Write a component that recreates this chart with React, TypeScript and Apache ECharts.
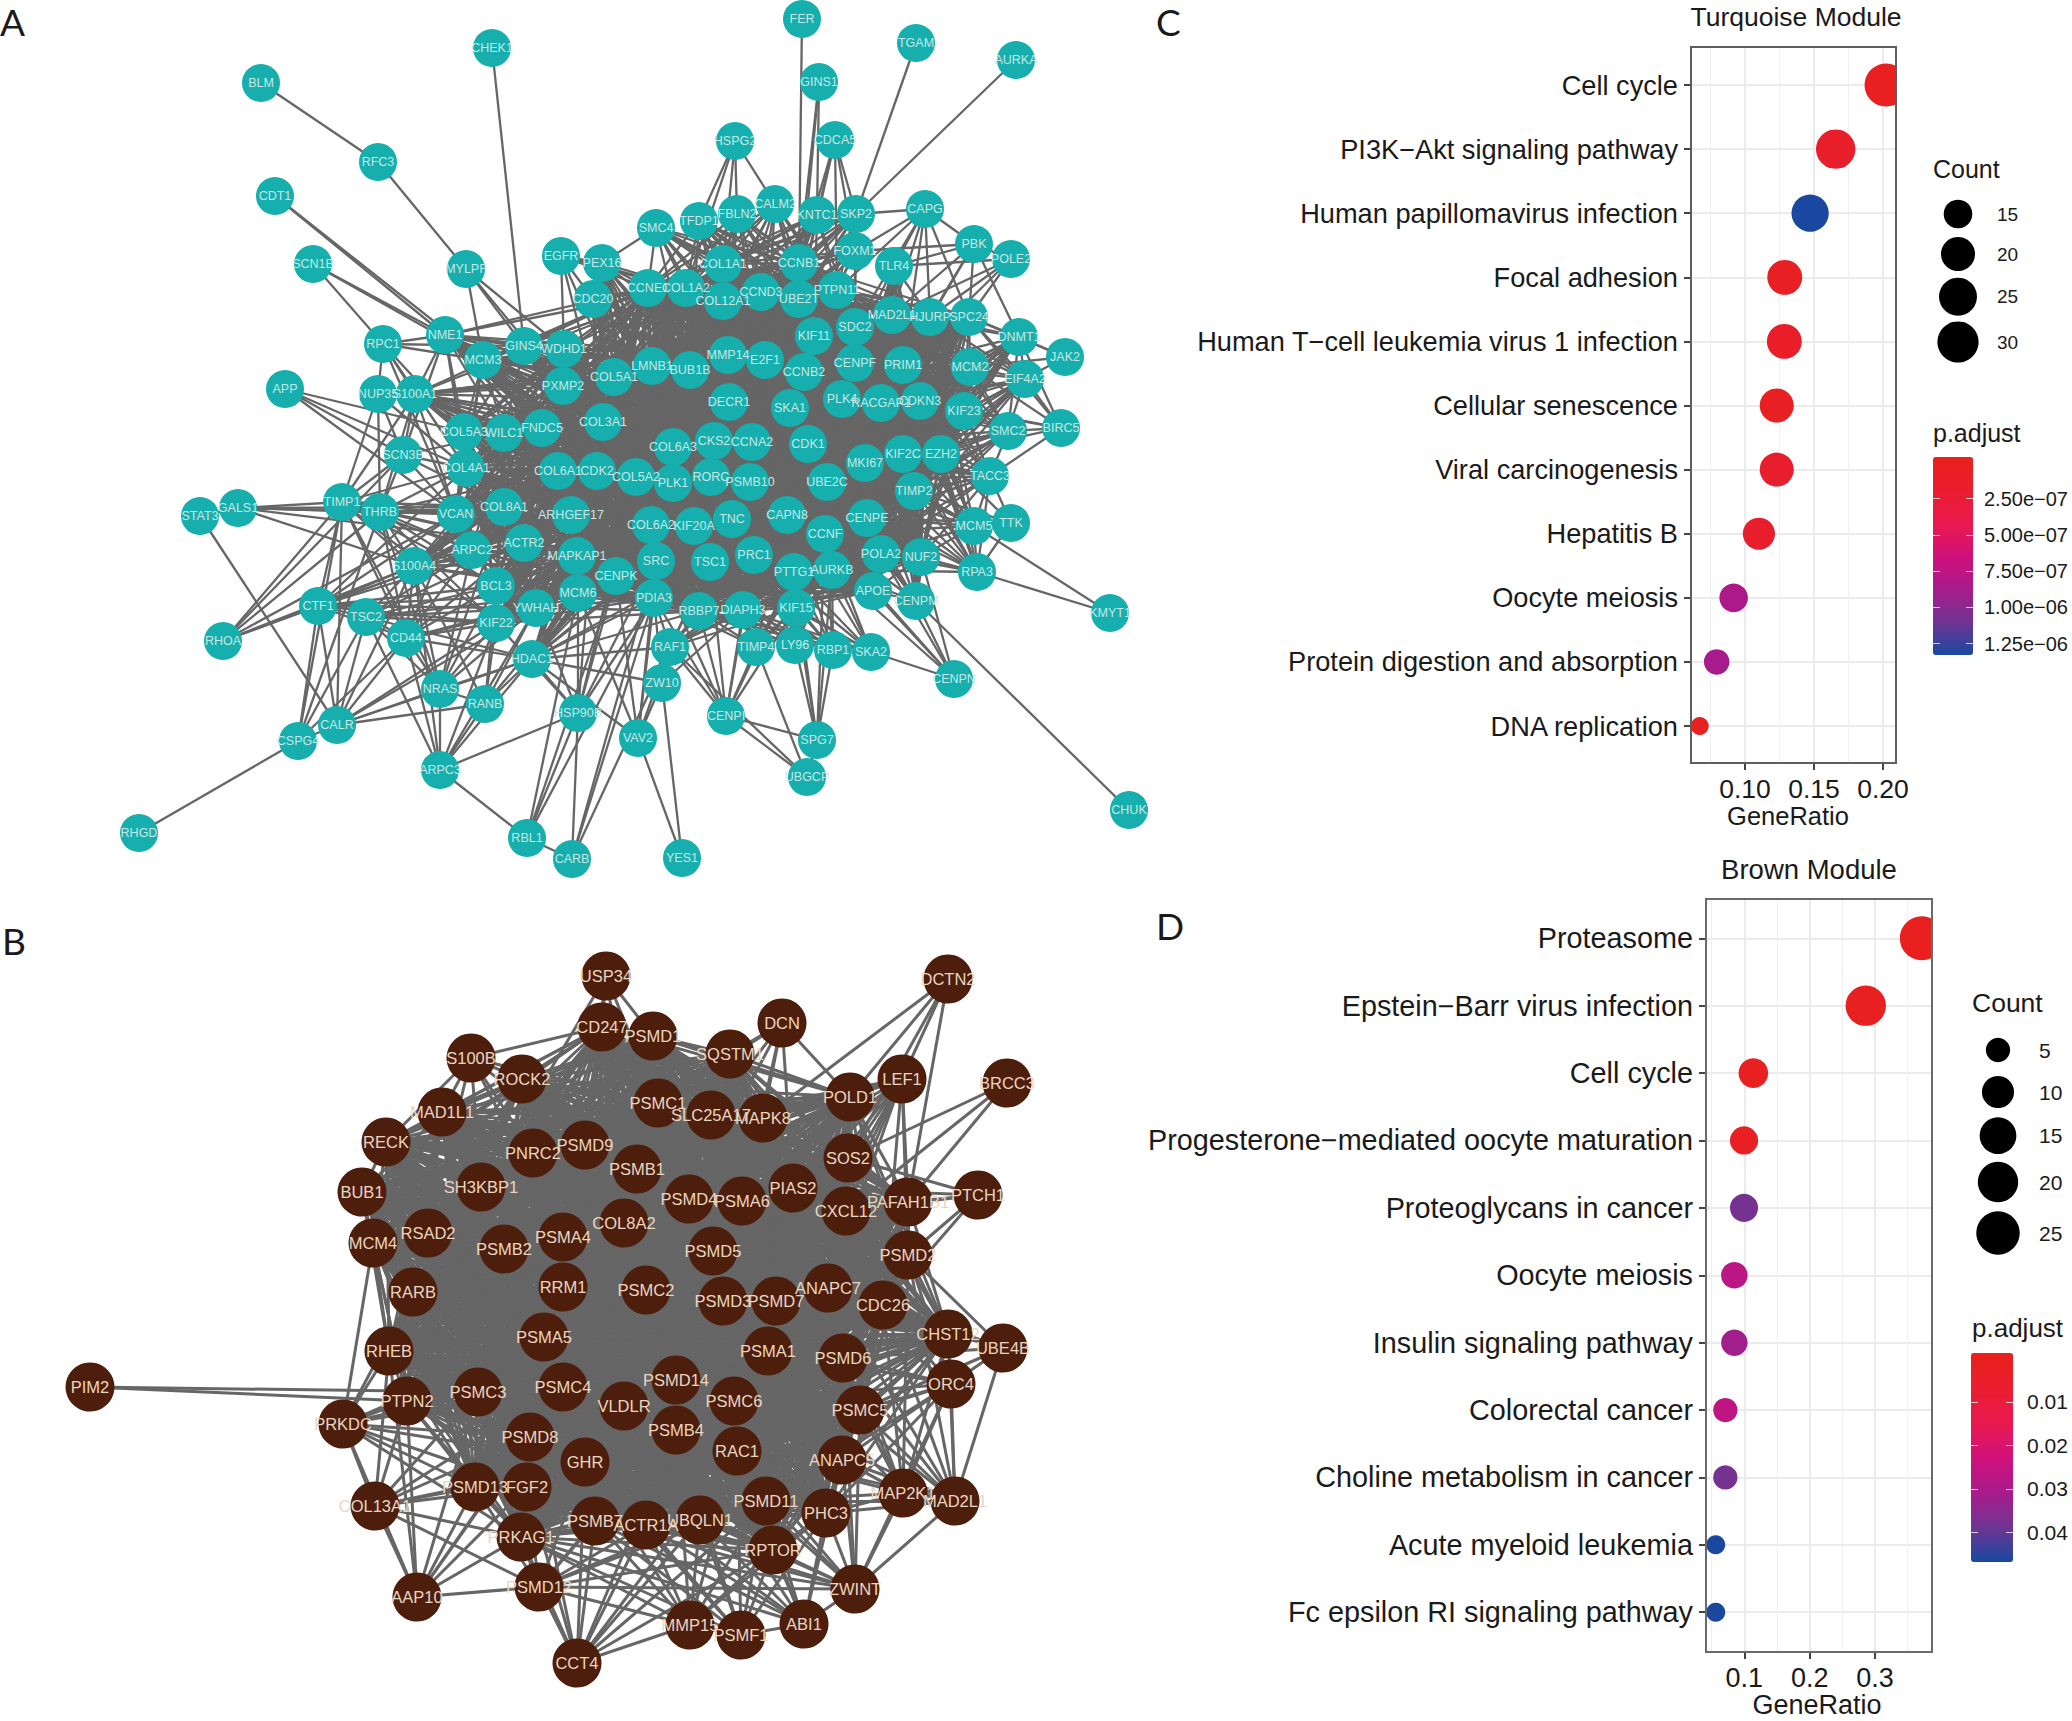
import React, { useEffect, useRef } from "react";
import * as echarts from "echarts";

const FONT = "Liberation Sans";

// ---------- Panel A network: node name, layout x, layout y ----------
const nodesA: [string, number, number][] = [
  ["BLM",261,83],["RFC3",378,162],["CHEK1",492,48],["CDT1",275,196],["SCN1B",313,264],["MYLPF",466,269],["EGFR",561,256],["PEX16",602,263],["CDC20",593,299],
  ["RPC1",383,344],["NME1",445,335],["MCM3",483,360],["GINS4",524,346],["WDHD1",564,349],["PXMP2",563,386],["APP",285,389],["NUP35",378,394],["S100A1",415,394],
  ["COL5A3",464,432],["WILC1",504,433],["FNDC5",542,428],["COL3A1",603,422],["SCN3B",403,455],["FER",802,19],["TGAM",916,43],["AURKA",1016,60],["GINS1",819,82],
  ["HSPG2",735,141],["CDCA5",835,140],["SMC4",656,228],["TFDP1",699,221],["FBLN2",737,214],["CALM2",775,204],["KNTC1",817,215],["SKP2",856,214],["CAPG",925,209],
  ["PBK",974,244],["POLE2",1011,259],["FOXM1",855,251],["TLR4",894,266],["COL1A1",723,264],["CCNB1",799,263],["CCNE1",648,288],["COL1A2",686,288],["COL12A1",723,301],
  ["CCND3",761,292],["UBE2T",799,299],["PTPN11",837,290],["MAD2L1",892,315],["HJURP",930,317],["SPC24",969,317],["DNMT1",1019,337],["JAK2",1065,357],["SDC2",855,327],
  ["KIF11",814,336],["MMP14",728,355],["E2F1",765,360],["LMNB1",652,366],["BUB1B",690,370],["COL5A1",614,377],["CCNB2",804,372],["CENPF",855,363],["PRIM1",903,365],
  ["MCM2",970,367],["EIF4A2",1025,379],["DECR1",729,402],["SKA1",790,408],["PLK4",842,399],["RACGAP1",881,403],["CDKN3",920,401],["KIF23",964,411],["SMC2",1008,431],
  ["BIRC5",1061,428],["COL6A3",673,447],["CKS2",714,441],["CCNA2",752,442],["CDK1",808,444],["MKI67",865,463],["KIF2C",903,454],["EZH2",941,454],["TACC3",990,476],
  ["COL6A1",558,471],["CDK2",597,471],["COL4A1",466,468],["COL5A2",636,477],["PLK1",673,483],["RORC",711,477],["PSMB10",750,482],["UBE2C",827,482],["TIMP2",914,491],
  ["COL6A2",651,525],["KIF20A",694,526],["TNC",732,519],["CAPN8",787,515],["CCNF",825,534],["CENPE",867,518],["MCM5",974,526],["TTK",1011,523],["SRC",656,561],
  ["TSC1",710,562],["PRC1",754,555],["POLA2",881,554],["NUF2",921,557],["PTTG1",794,572],["AURKB",832,570],["RPA3",977,572],["CENPK",616,576],["PDIA3",654,598],
  ["APOE",873,591],["CENPM",916,601],["KMYT1",1110,613],["RBBP7",699,611],["DIAPH3",743,610],["KIF15",796,608],["RAF1",670,647],["TIMP4",756,647],["LY96",795,645],
  ["RBP1",833,650],["SKA2",871,652],["CENPN",954,679],["ZW10",662,683],["CENPI",726,716],["SPG7",817,740],["VAV2",638,738],["UBGCP",807,777],["CHUK",1129,810],
  ["YES1",682,858],["STAT3",200,516],["GALS1",238,508],["TIMP1",342,502],["THRB",380,512],["VCAN",456,514],["COL8A1",504,507],["ARHGEF17",571,515],["ARPC2",472,550],
  ["ACTR2",524,543],["MAPKAP1",577,556],["S100A4",414,566],["BCL3",496,586],["MCM6",578,593],["CTF1",318,606],["TSC2",366,617],["YWHAH",536,608],["KIF22",496,623],
  ["CD44",406,638],["RHOA",223,641],["HDAC1",532,659],["NRAS",440,689],["RANB",485,704],["HSP90B",578,713],["CALR",337,725],["CSPG4",298,741],["ARPC3",440,770],
  ["RHGD",139,833],["RBL1",527,838],["CARB",572,859],
];

// Densely connected centre of module A
const coreA = "COL5A1 COL3A1 LMNB1 BUB1B MMP14 E2F1 KIF11 SDC2 CENPF CCNB2 PRIM1 DECR1 SKA1 PLK4 RACGAP1 CDKN3 COL6A3 CKS2 CCNA2 CDK1 MKI67 KIF2C EZH2 COL5A2 PLK1 RORC PSMB10 UBE2C TIMP2 COL6A2 KIF20A TNC CAPN8 CCNF CENPE SRC TSC1 PRC1 POLA2 PTTG1 AURKB CDK2 COL12A1 CCND3 UBE2T PTPN11 COL1A2 CCNE1 MAD2L1 HJURP RBBP7 DIAPH3 PDIA3 KIF15 KIF23 MCM2 SPC24 NUF2 COL6A1 MCM6 CENPK APOE COL1A1 CCNB1".split(" ");
const hubsLeftA = "COL5A1 LMNB1 BUB1B DECR1 COL6A3 COL5A2 PLK1 COL6A2 SRC TSC1 CKS2 RORC KIF20A CDK2 COL3A1 MMP14 CCNE1 COL1A2 PDIA3 RBBP7".split(" ");
const hubsRightA = "CDKN3 PRIM1 KIF2C EZH2 TIMP2 CENPE POLA2 MKI67 RACGAP1 HJURP MAD2L1 CCNF AURKB UBE2C CDK1".split(" ");
const ringLeftA = "GINS4 WDHD1 PXMP2 FNDC5 WILC1 COL8A1 ARHGEF17 ACTR2 MAPKAP1 BCL3 YWHAH COL4A1 ARPC2 VCAN COL5A3 MCM3 HDAC1 KIF22 S100A1 CDC20 PEX16 S100A4 NME1".split(" ");
const cliqueLeftA = "PXMP2 FNDC5 WILC1 COL8A1 ARHGEF17 ACTR2 MAPKAP1 BCL3 YWHAH VCAN ARPC2 COL4A1 COL5A3 WDHD1".split(" ");
const ringRightA = "TLR4 MCM5 TACC3 RPA3 SMC2 DNMT1 EIF4A2 CENPM".split(" ");
const ringTopA = "SMC4 TFDP1 FBLN2 CALM2 KNTC1 SKP2 FOXM1".split(" ");
const hubsTopA = "CCNE1 COL1A2 COL12A1 CCND3 UBE2T PTPN11 KIF11 SDC2 E2F1 MMP14 BUB1B COL1A1 CCNB1".split(" ");
const ringBottomA = "RAF1 TIMP4 LY96 RBP1 SKA2".split(" ");
const hubsBottomA = "DIAPH3 KIF15 PTTG1 AURKB RBBP7 PRC1 TSC1 CCNF CAPN8 PDIA3".split(" ");

const starsA: [string, string][] = [
  ["BLM","RFC3"],["RFC3","MYLPF"],["CHEK1","GINS4"],["CDT1","NME1 MCM3"],["SCN1B","RPC1 NME1 MCM3"],["MYLPF","GINS4 WDHD1 PXMP2 MCM3"],
  ["EGFR","WDHD1 PEX16 CDC20 CCNE1 COL5A1 COL1A2 COL12A1 COL3A1"],["PEX16","CDC20 CCNE1 COL1A2 COL5A1 LMNB1 SMC4"],
  ["NME1","RPC1 S100A1 COL5A3 WILC1 FNDC5 COL4A1 SCN3B MCM3 GINS4 PXMP2 WDHD1 COL3A1"],["RPC1","S100A1 COL5A3 COL4A1 VCAN MCM3 GINS4 NUP35"],
  ["APP","SCN3B COL5A3 COL4A1 VCAN"],["NUP35","TIMP1 SCN3B COL4A1 THRB S100A1"],["S100A1","TIMP1 THRB SCN3B COL5A3 WILC1 FNDC5 PXMP2 VCAN"],
  ["MCM3","GINS4 WDHD1 PXMP2 FNDC5 WILC1 COL5A3 COL4A1 VCAN"],["GINS4","WDHD1 PXMP2 COL3A1 WILC1 COL5A3"],["SCN3B","TIMP1 THRB VCAN COL4A1 COL8A1 WILC1"],
  ["FER","CCNB1"],["GINS1","KNTC1 CCNB1 UBE2T"],["HSPG2","TFDP1 FBLN2 COL1A1 CALM2 COL1A2"],["CDCA5","KNTC1 CCNB1 FOXM1 SKP2 PTPN11 UBE2T"],
  ["TGAM","SKP2"],["AURKA","SKP2"],["CAPG","SKP2 FOXM1 TLR4 MAD2L1 HJURP SPC24 SDC2 PRIM1 PTPN11"],
  ["PBK","TLR4 MAD2L1 HJURP SPC24 DNMT1 CAPG POLE2 PRIM1 FOXM1"],["POLE2","HJURP SPC24 TLR4 MAD2L1 PRIM1"],
  ["DNMT1","SPC24 MCM2 EIF4A2 JAK2 BIRC5 KIF23 SMC2 PRIM1"],["JAK2","EIF4A2 MCM2 DNMT1 SPC24"],["EIF4A2","MCM2 SPC24 KIF23 SMC2 BIRC5 PRIM1 CDKN3"],
  ["SMC2","KIF23 BIRC5 EZH2 KIF2C MCM2 CDKN3 TIMP2 TACC3"],["BIRC5","KIF23 MCM2 CDKN3 EZH2 TACC3 SPC24"],["TACC3","EZH2 KIF2C TIMP2 CENPE KIF23 MCM5 TTK NUF2"],
  ["TTK","TACC3 TIMP2 CENPE EZH2 MCM5"],["MCM5","TIMP2 CENPE POLA2 NUF2 KIF2C RPA3"],["KMYT1","MCM5 RPA3"],["RPA3","NUF2 TIMP2 CENPE TTK TACC3 POLA2"],
  ["CENPM","NUF2 APOE POLA2 CHUK CCNF AURKB CENPE"],["CENPN","SKA2 CENPM APOE NUF2 POLA2 AURKB CCNF"],
  ["SPG7","LY96 RBP1 AURKB PTTG1 KIF15 CENPI UBGCP CCNF"],["UBGCP","CENPI RAF1 TIMP4"],["CENPI","TIMP4 RBBP7 DIAPH3 KIF15 RAF1 PDIA3 TSC1 PRC1 PTTG1 SRC"],
  ["ZW10","RAF1 PDIA3 VAV2 YES1 DIAPH3"],["VAV2","YES1 PDIA3 SRC MCM6 CENPK HDAC1 RAF1"],["CHUK","CENPM"],
  ["GALS1","TIMP1 THRB VCAN COL8A1 ACTR2 ARHGEF17 S100A4"],["STAT3","GALS1 CALR"],["RHOA","CTF1 S100A4 TIMP1 ARPC2 SCN3B VCAN THRB"],
  ["TIMP1","THRB VCAN COL4A1 S100A4 CTF1 COL8A1 ACTR2 ARPC2 BCL3 NRAS KIF22 CD44"],["THRB","VCAN COL4A1 COL8A1 ARPC2 ACTR2 S100A4 CD44 BCL3 KIF22 ARHGEF17 COL6A1"],
  ["CTF1","S100A4 ARPC2 ACTR2 CD44 BCL3 VCAN COL4A1 TSC2 YWHAH KIF22 MCM6"],["TSC2","CD44 NRAS KIF22 YWHAH ARPC2 ACTR2 MCM6 HDAC1 S100A4 BCL3"],
  ["CD44","NRAS S100A4 VCAN COL8A1 KIF22 HDAC1 BCL3 ACTR2 YWHAH MCM6"],["CALR","TIMP1 CTF1 CD44 TSC2 NRAS RANB HDAC1 KIF22 YWHAH S100A4"],
  ["CSPG4","TIMP1 CTF1 THRB CALR TSC2 RHGD CD44"],["ARPC3","NRAS RANB CD44 TSC2 S100A4 HDAC1 YWHAH KIF22 RBL1 HSP90B"],
  ["NRAS","S100A4 BCL3 YWHAH HDAC1 KIF22 RANB COL8A1 ARPC2 THRB"],["RANB","KIF22 YWHAH HDAC1 MCM6 BCL3 S100A4"],
  ["HSP90B","HDAC1 KIF22 MCM6 CENPK SRC PDIA3 COL5A2 CDK2 YWHAH"],["RBL1","CARB HSP90B PDIA3 CENPK MCM6"],["CARB","HSP90B SRC PDIA3 TSC1"],
  ["HDAC1","HSP90B RAF1 ZW10 SRC PDIA3 RBBP7"],
];

// ---------- Panel B network ----------
const nodesB: [string, number, number][] = [
  ["S100B",471,1058],["ROCK2",522,1079],["MAD1L1",442,1112],["RECK",386,1142],["PNRC2",533,1153],["PSMD9",585,1145],["BUB1",362,1192],["SH3KBP1",481,1187],["RSAD2",428,1233],
  ["MCM4",373,1243],["PSMB2",504,1249],["PSMA4",563,1237],["RRM1",563,1287],["RARB",413,1292],["USP34",606,976],["CD247",602,1027],["PSMD1",653,1036],["SQSTM1",730,1054],
  ["DCN",782,1023],["DCTN2",948,979],["LEF1",902,1079],["BRCC3",1007,1083],["POLD1",850,1097],["PSMC1",658,1103],["SLC25A17",711,1115],["MAPK8",763,1118],["SOS2",848,1158],
  ["PSMB1",637,1169],["PSMD4",689,1199],["PSMA6",742,1201],["PIAS2",793,1188],["CXCL12",846,1211],["PAFAH1B1",908,1202],["PTCH1",978,1195],["COL8A2",624,1223],["PSMD5",713,1251],
  ["PSMD2",908,1255],["PSMC2",646,1290],["PSMD3",723,1301],["PSMD7",776,1301],["ANAPC7",828,1288],["CDC26",883,1305],["PSMA5",544,1337],["PSMA1",768,1351],["CHST12",948,1334],
  ["UBE4B",1003,1348],["RHEB",389,1351],["PSMD6",843,1358],["ORC4",951,1384],["PSMC4",563,1387],["PSMD14",676,1380],["PSMC3",478,1392],["PTPN2",407,1401],["VLDLR",624,1406],
  ["PSMC6",734,1401],["PSMC5",860,1410],["PRKDC",343,1424],["PSMB4",676,1430],["PSMD8",530,1437],["RAC1",737,1451],["ANAPC5",842,1460],["GHR",585,1462],["MAP2K1",903,1493],
  ["MAD2L1",955,1501],["PSMD13",475,1487],["FGF2",527,1487],["COL13A1",375,1506],["PSMD11",766,1501],["PHC3",826,1513],["PSMB7",595,1521],["ACTR1A",646,1525],["UBQLN1",700,1520],
  ["PRKAG1",521,1537],["RPTOR",773,1550],["PSMD12",539,1587],["ZWINT",855,1589],["AAP10",417,1597],["MMP15",690,1625],["PSMF1",741,1635],["ABI1",804,1624],["CCT4",577,1663],
  ["PIM2",90,1387],
];
const outerB = "PIM2 DCTN2 BRCC3 PTCH1 USP34 DCN LEF1 S100B PRKDC COL13A1 AAP10 CCT4 MMP15 PSMF1 ABI1 ZWINT MAD2L1 UBE4B ORC4 MAP2K1 PSMD12".split(" ");
const hubsTopRightB = "MAPK8 PSMA6 PIAS2 SOS2 CXCL12 PSMD5 PSMD7 ANAPC7 PSMD3 SLC25A17 PSMD4 PSMA1".split(" ");
const hubsBottomB = "PSMB7 ACTR1A UBQLN1 PSMD11 RPTOR PHC3 PRKAG1 FGF2 PSMD13 GHR RAC1 ANAPC5 PSMB4 PSMD8".split(" ");
const hubsRightB = "PSMC5 PSMD6 ANAPC5 PHC3 CDC26 PSMD2 CHST12 PSMA1 ANAPC7 PSMD11 RAC1 PSMC6".split(" ");
const starsB: [string, string][] = [
  ["PIM2","PTPN2 PSMC3"],["DCTN2","LEF1 POLD1 SOS2 PAFAH1B1 MAPK8"],["BRCC3","SOS2 PAFAH1B1 CXCL12"],["DCN","SQSTM1 POLD1 MAPK8 PSMA6 SLC25A17 PIAS2 PSMC1 PSMD4"],
  ["LEF1","POLD1 SOS2 PAFAH1B1 CXCL12 PSMD2 PIAS2 ANAPC7 CDC26 PSMD7"],
  ["PTCH1","PAFAH1B1 PSMD2 SOS2 CXCL12 CDC26 PIAS2"],["UBE4B","PSMD2 CDC26 CHST12 ORC4 PSMC5 MAD2L1 ANAPC7 PSMD6"],["ORC4","PSMD2 CDC26 CHST12 PSMC5 MAD2L1 ANAPC5 MAP2K1 ZWINT PSMD6 ANAPC7"],
  ["MAD2L1","MAP2K1 ANAPC5 PSMC5 ZWINT PHC3 CHST12 PSMD6"],["MAP2K1","ANAPC5 PSMC5 ZWINT PHC3 CHST12 RAC1 PSMD11"],
  ["USP34","CD247 PSMD1 PSMC1 PSMB1 SH3KBP1 PSMD9"],["S100B","CD247 ROCK2 MAD1L1 PNRC2 SH3KBP1 PSMD9 PSMC1 PSMA4 RECK RSAD2"],
  ["PRKDC","RHEB PTPN2 PSMD13 FGF2 COL13A1 PSMC3 PSMD8 PRKAG1 PSMC4 PSMA5 GHR RARB MCM4"],["COL13A1","PSMD13 FGF2 PRKAG1 PTPN2 PSMC3 PSMD8 RHEB AAP10 PSMD12 PSMC4 GHR"],
  ["AAP10","PSMD12 PRKAG1 PSMD13 PTPN2 PRKDC RHEB FGF2 PSMC3 PSMD8 PSMC4"],["PSMD12","PRKAG1 FGF2 PSMB7 ACTR1A UBQLN1 RPTOR ZWINT PSMD13 GHR PSMB4 PSMD11"],
  ["CCT4","PSMD12 PRKAG1 FGF2 PSMB7 ACTR1A UBQLN1 PSMD11 RPTOR MMP15 GHR PSMB4 PSMD8 RAC1"],["MMP15","PSMF1 PRKAG1 PSMB7 ACTR1A UBQLN1 RPTOR PSMD11 PSMD12 GHR RAC1 PSMB4 PHC3"],
  ["PSMF1","ABI1 PSMB7 ACTR1A UBQLN1 RPTOR PSMD11 PHC3 PRKAG1 RAC1 PSMB4 GHR"],["ABI1","ZWINT PSMB7 ACTR1A UBQLN1 RPTOR PSMD11 PHC3 PRKAG1 ANAPC5 RAC1 PSMB4 GHR"],
  ["ZWINT","PHC3 MAP2K1 PSMC5 ANAPC5 RPTOR PSMD11 PSMB7 ACTR1A UBQLN1 RAC1 PRKAG1 PSMB4 PSMD12 PSMD6"],
];

// ---------- Panel C dot plot ----------
const categoriesC = ["Cell cycle","PI3K−Akt signaling pathway","Human papillomavirus infection","Focal adhesion","Human T−cell leukemia virus 1 infection","Cellular senescence","Viral carcinogenesis","Hepatitis B","Oocyte meiosis","Protein digestion and absorption","DNA replication"];
const geneRatioC = [0.2022,0.1657,0.1472,0.1288,0.1285,0.123,0.123,0.1101,0.0918,0.0795,0.0672];
const countC = [33,27,24,21,21,20,20,18,15,13,11];
const pAdjustC = [2e-8,1.5e-7,1.32e-6,5e-8,1.2e-7,5e-8,1.6e-7,1.6e-7,8.4e-7,8.7e-7,2e-8];
const legendCountC = [15,20,25,30];
const colorTicksC = [2.5e-7,5e-7,7.5e-7,1e-6,1.25e-6];
const colorLabelsC = ["2.50e−07","5.00e−07","7.50e−07","1.00e−06","1.25e−06"];

// ---------- Panel D dot plot ----------
const categoriesD = ["Proteasome","Epstein−Barr virus infection","Cell cycle","Progesterone−mediated oocyte maturation","Proteoglycans in cancer","Oocyte meiosis","Insulin signaling pathway","Colorectal cancer","Choline metabolism in cancer","Acute myeloid leukemia","Fc epsilon RI signaling pathway"];
const geneRatioD = [0.3717,0.2859,0.1138,0.0995,0.0995,0.0847,0.0847,0.0709,0.0709,0.0562,0.0562];
const countD = [26,20,8,7,7,6,6,5,5,4,4];
const pAdjustD = [0.0005,0.0005,0.001,0.002,0.038,0.027,0.032,0.0265,0.038,0.0465,0.0465];
const legendCountD = [5,10,15,20,25];
const colorTicksD = [0.01,0.02,0.03,0.04];
const colorLabelsD = ["0.01","0.02","0.03","0.04"];

// ---------- styles / layout ----------
const GRADIENT = ["#E8211B","#E91D2F","#EA1A4F","#D0107A","#A81B8C","#703492","#1749A0"];
const areaScale = (cMin: number, cMax: number, dMin: number, dMax: number) => (c: number) => dMin + (dMax - dMin) * Math.sqrt(Math.max(0, c - cMin) / (cMax - cMin));
const sizeC = areaScale(11, 33, 18, 43);
const sizeD = areaScale(4, 26, 19, 44);
const legendKeyYC = [214, 254, 296.7, 342];
const legendKeyYD = [1050, 1092, 1135.7, 1182, 1233];

const buildLinks = (names: string[], cliques: string[][], bipartite: [string[], string[]][], stars: [string, string][]) => {
  const known = new Set(names);
  const seen = new Set<string>();
  const out: { source: string; target: string }[] = [];
  const add = (a: string, b: string) => {
    if (a === b || !known.has(a) || !known.has(b)) return;
    const k = a < b ? a + "|" + b : b + "|" + a;
    if (seen.has(k)) return;
    seen.add(k);
    out.push({ source: a, target: b });
  };
  cliques.forEach((c) => c.forEach((a, i) => c.slice(i + 1).forEach((b) => add(a, b))));
  bipartite.forEach(([l, r]) => l.forEach((a) => r.forEach((b) => add(a, b))));
  stars.forEach(([a, list]) => list.split(" ").forEach((b) => add(a, b)));
  return out;
};

const namesA = nodesA.map((n) => n[0]);
const namesB = nodesB.map((n) => n[0]);
const linksA = buildLinks(namesA, [coreA, cliqueLeftA], [[ringLeftA, hubsLeftA], [ringRightA, hubsRightA], [ringTopA, hubsTopA], [ringBottomA, hubsBottomA]], starsA);
const coreB = namesB.filter((n) => !outerB.includes(n));
const linksB = buildLinks(namesB, [coreB], [[["LEF1"], hubsTopRightB], [["ZWINT","ABI1","MMP15"], hubsBottomB.slice(0, 6)], [["ORC4","MAP2K1","MAD2L1"], hubsRightB]], starsB);

const graphSeries = (nodes: [string, number, number][], links: any[], color: string, size: number, labelColor: string, fontSize: number, width: number) => ({
  type: "graph", coordinateSystem: "cartesian2d", xAxisIndex: 0, yAxisIndex: 0, layout: "none", silent: true, roam: false,
  symbol: "circle", symbolSize: size,
  itemStyle: { color, opacity: 1 },
  label: { show: true, position: "inside", formatter: "{b}", color: labelColor, fontSize, fontFamily: FONT },
  lineStyle: { color: "#666666", width, opacity: 1, curveness: 0 },
  emphasis: { disabled: true },
  data: nodes.map((n) => ({ name: n[0], value: [n[1], n[2]] })),
  links,
});

const T = (text: string, x: number, y: number, fontSize: number, align = "left", extra: any = {}) => ({
  type: "text", x, y, z: 30, silent: true,
  style: { text, fontSize, fontFamily: FONT, fill: "#1a1a1a", align, verticalAlign: "middle", ...extra },
});

const range11 = [0,1,2,3,4,5,6,7,8,9,10];
const xAxisMain = (gridIndex: number, min: number, max: number, values: number[], digits: number, fontSize: number) => ({
  type: "value", gridIndex, min, max,
  axisLine: { show: false, onZero: false },
  axisTick: { show: true, length: 7, lineStyle: { color: "#444", width: 2 }, customValues: values },
  axisLabel: { show: true, margin: 12, fontSize, fontFamily: FONT, color: "#1a1a1a", customValues: values, formatter: (v: number) => v.toFixed(digits) },
  splitLine: { show: true, lineStyle: { color: "#EBEBEB", width: 2 } },
});
const xAxisMinor = (gridIndex: number, min: number, max: number, values: number[]) => ({
  type: "value", gridIndex, min, max, position: "top",
  axisLine: { show: false, onZero: false }, axisLabel: { show: false },
  axisTick: { show: false, customValues: values },
  splitLine: { show: true, lineStyle: { color: "#EFEFEF", width: 1 } },
});
const yAxisCat = (gridIndex: number, min: number, max: number, cats: string[], fontSize: number) => ({
  type: "value", gridIndex, min, max, inverse: true,
  axisLine: { show: false, onZero: false },
  axisTick: { show: true, length: 7, lineStyle: { color: "#444", width: 2 }, customValues: range11 },
  axisLabel: { show: true, margin: 13, fontSize, fontFamily: FONT, color: "#1a1a1a", customValues: range11, formatter: (v: number) => cats[v] },
  splitLine: { show: true, lineStyle: { color: "#EBEBEB", width: 2 } },
});
const hiddenX = (gridIndex: number) => ({ type: "value", gridIndex, min: 0, max: 1, show: false });
const barAxis = (gridIndex: number, min: number, max: number, ticks: number[], labels: string[], fontSize: number, side: string, margin: number) => ({
  type: "value", gridIndex, min, max, inverse: true, position: side, z: 8,
  axisLine: { show: false, onZero: false }, splitLine: { show: false },
  axisTick: { show: true, inside: true, length: 7, lineStyle: { color: "rgba(255,255,255,0.75)", width: 1 }, customValues: ticks },
  axisLabel: { show: side === "right", margin, fontSize, fontFamily: FONT, color: "#1a1a1a", customValues: ticks, formatter: (v: number) => labels[ticks.indexOf(v)] ?? "" },
});

const colorMinC = -3.76e-8, colorMaxC = 1.328e-6, colorMinD = -0.0012, colorMaxD = 0.0468;
const gridBase = { outerBoundsMode: "none", containLabel: false };

const option: any = {
  animation: false,
  backgroundColor: "#ffffff",
  textStyle: { fontFamily: FONT },
  grid: [
    { ...gridBase, left: 0, top: 0, width: 2072, height: 1721 },
    { ...gridBase, left: 1691, top: 47, width: 205, height: 716 },
    { ...gridBase, left: 1706, top: 899, width: 226, height: 753 },
    { ...gridBase, left: 1933, top: 457, width: 40, height: 198 },
    { ...gridBase, left: 1971, top: 1353, width: 42, height: 209 },
  ],
  xAxis: [
    { type: "value", gridIndex: 0, min: 0, max: 2072, show: false },
    xAxisMain(1, 0.0609, 0.2094, [0.1, 0.15, 0.2], 2, 26.5),
    xAxisMain(2, 0.0413, 0.3873, [0.1, 0.2, 0.3], 1, 27),
    hiddenX(3), hiddenX(4),
    xAxisMinor(1, 0.0609, 0.2094, [0.075, 0.125, 0.175]),
    xAxisMinor(2, 0.0413, 0.3873, [0.05, 0.15, 0.25, 0.35]),
  ],
  yAxis: [
    { type: "value", gridIndex: 0, min: 0, max: 1721, inverse: true, show: false },
    yAxisCat(1, -0.593, 10.577, categoriesC, 27.2),
    yAxisCat(2, -0.583, 10.59, categoriesD, 28.8),
    barAxis(3, colorMinC, colorMaxC, colorTicksC, colorLabelsC, 20, "right", 11),
    barAxis(3, colorMinC, colorMaxC, colorTicksC, colorLabelsC, 20, "left", 0),
    barAxis(4, colorMinD, colorMaxD, colorTicksD, colorLabelsD, 21, "right", 14),
    barAxis(4, colorMinD, colorMaxD, colorTicksD, colorLabelsD, 21, "left", 0),
  ],
  visualMap: [
    { type: "continuous", seriesIndex: 2, dimension: 2, min: colorMinC, max: colorMaxC, inverse: true, left: 1933, top: 457, padding: 0, itemWidth: 40, itemHeight: 198, calculable: false, hoverLink: false, realtime: false, inRange: { color: GRADIENT } },
    { type: "continuous", seriesIndex: 3, dimension: 2, min: colorMinD, max: colorMaxD, inverse: true, left: 1971, top: 1353, padding: 0, itemWidth: 42, itemHeight: 209, calculable: false, hoverLink: false, realtime: false, inRange: { color: GRADIENT } },
  ],
  series: [
    graphSeries(nodesA, linksA, "#17AFAD", 38, "#C5E8E6", 12.5, 2.3),
    graphSeries(nodesB, linksB, "#4E1E0D", 49, "#EAD6C0", 16.5, 3),
    { type: "scatter", xAxisIndex: 1, yAxisIndex: 1, silent: true, itemStyle: { opacity: 1 }, symbolSize: (v: number[]) => sizeC(v[3]), data: categoriesC.map((_, i) => [geneRatioC[i], i, pAdjustC[i], countC[i]]) },
    { type: "scatter", xAxisIndex: 2, yAxisIndex: 2, silent: true, itemStyle: { opacity: 1 }, symbolSize: (v: number[]) => sizeD(v[3]), data: categoriesD.map((_, i) => [geneRatioD[i], i, pAdjustD[i], countD[i]]) },
    { type: "scatter", xAxisIndex: 0, yAxisIndex: 0, silent: true, itemStyle: { color: "#000", opacity: 1 }, symbolSize: (v: number[]) => sizeC(v[2]), data: legendCountC.map((c, i) => [1958, legendKeyYC[i], c]) },
    { type: "scatter", xAxisIndex: 0, yAxisIndex: 0, silent: true, itemStyle: { color: "#000", opacity: 1 }, symbolSize: (v: number[]) => sizeD(v[2]), data: legendCountD.map((c, i) => [1998, legendKeyYD[i], c]) },
  ],
  graphic: [
    // clip the dots that overrun their panel, then draw the panel frames on top
    { type: "rect", z: 20, silent: true, shape: { x: 1897, y: 55, width: 16, height: 60 }, style: { fill: "#fff" } },
    { type: "rect", z: 20, silent: true, shape: { x: 1933, y: 905, width: 20, height: 66 }, style: { fill: "#fff" } },
    { type: "rect", z: 21, silent: true, shape: { x: 1691, y: 47, width: 205, height: 716 }, style: { fill: "none", stroke: "#5f5f5f", lineWidth: 2 } },
    { type: "rect", z: 21, silent: true, shape: { x: 1706, y: 899, width: 226, height: 753 }, style: { fill: "none", stroke: "#6a6a6a", lineWidth: 2 } },
    T("A", 0, 21, 37, "left", { fontFamily: "Lato" }),
    T("B", 2, 940, 37, "left", { fontFamily: "Lato" }),
    T("C", 1156, 21, 37, "left", { fontFamily: "Lato" }),
    T("D", 1156, 925, 37, "left", { fontFamily: "Lato" }),
    T("Turquoise Module", 1796, 17, 26.5, "center"),
    T("Brown Module", 1809, 869, 27.5, "center"),
    T("GeneRatio", 1788, 816, 25.5, "center"),
    T("GeneRatio", 1817, 1705, 27, "center"),
    T("Count", 1933, 169, 25),
    T("p.adjust", 1933, 433, 25),
    T("Count", 1972, 1003, 26.5),
    T("p.adjust", 1972, 1328, 26),
    ...legendCountC.map((c, i) => T(String(c), 1997, legendKeyYC[i], 19)),
    ...legendCountD.map((c, i) => T(String(c), 2039, legendKeyYD[i], 21)),
  ],
};

export default function App() {
  const ref = useRef<HTMLDivElement>(null);
  useEffect(() => {
    const chart = echarts.init(ref.current!, undefined, { renderer: "svg" });
    chart.setOption(option);
    return () => chart.dispose();
  }, []);
  return <div ref={ref} style={{ position: "absolute", left: 0, top: 0, width: 2072, height: 1721 }} />;
}
